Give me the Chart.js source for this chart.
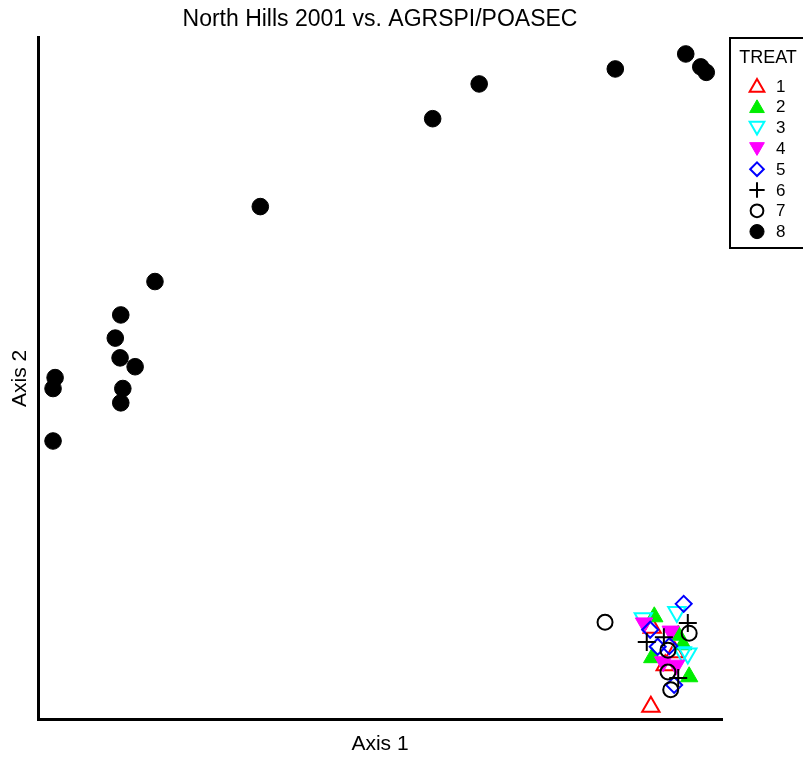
<!DOCTYPE html>
<html>
<head>
<meta charset="utf-8">
<script src="https://cdn.jsdelivr.net/npm/chart.js@4/dist/chart.umd.min.js"></script>
<style>
  html, body { margin: 0; padding: 0; background: #fff; }
  #wrap { width: 803px; height: 759px; }
</style>
</head>
<body>
<div id="wrap"><canvas id="c" width="803" height="759"></canvas></div>
<script>
// NMS ordination scores, North Hills 2001, grouped by treatment
const treatLabels = ['1', '2', '3', '4', '5', '6', '7', '8'];

const t1Axis1 = [89.8, 93.1, 91.7, 89.6];
const t1Axis2 = [13.4, 9.8, 7.9, 1.8];

const t2Axis1 = [90.1, 93.6, 89.8, 95.2, 94.3];
const t2Axis2 = [15.0, 12.3, 9.0, 6.2, 10.9];

const t3Axis1 = [93.4, 88.5, 94.2, 95.0];
const t3Axis2 = [15.7, 14.8, 9.8, 9.6];

const t4Axis1 = [88.6, 92.5, 91.4, 93.3];
const t4Axis2 = [14.1, 12.9, 8.4, 7.9];

const t5Axis1 = [94.4, 89.5, 90.6, 92.3, 93.0];
const t5Axis2 = [16.9, 13.1, 10.6, 10.7, 5.0];

const t6Axis1 = [95.0, 89.0, 93.6, 91.5];
const t6Axis2 = [14.1, 11.3, 6.0, 12.0];

const t7Axis1 = [82.9, 95.2, 92.1, 92.1, 92.5];
const t7Axis2 = [14.2, 12.6, 10.1, 6.9, 4.3];

const t8Axis1 = [94.7, 96.9, 97.7, 84.4, 64.5, 57.7, 32.5, 17.1, 12.1, 11.3, 12.0, 14.2, 12.4, 12.1, 2.5, 2.2, 2.2];
const t8Axis2 = [97.6, 95.7, 94.9, 95.4, 93.2, 88.1, 75.2, 64.2, 59.3, 55.9, 53.0, 51.7, 48.5, 46.4, 50.1, 48.5, 40.8];

const axis1Values = [t1Axis1, t2Axis1, t3Axis1, t4Axis1, t5Axis1, t6Axis1, t7Axis1, t8Axis1];
const axis2Values = [t1Axis2, t2Axis2, t3Axis2, t4Axis2, t5Axis2, t6Axis2, t7Axis2, t8Axis2];

// marker styling per treatment
const markers = [
  { style: 'triangle', rot: 0,   stroke: '#ff0000', fill: 'rgba(0,0,0,0)', r: 10,  bw: 2 },
  { style: 'triangle', rot: 0,   stroke: '#00ee00', fill: '#00ee00',      r: 10,  bw: 1 },
  { style: 'triangle', rot: 180, stroke: '#00ffff', fill: 'rgba(0,0,0,0)', r: 10,  bw: 2 },
  { style: 'triangle', rot: 180, stroke: '#ff00ff', fill: '#ff00ff',      r: 10,  bw: 1 },
  { style: 'rectRot',  rot: 0,   stroke: '#0000ff', fill: 'rgba(0,0,0,0)', r: 8,   bw: 2 },
  { style: 'cross',    rot: 0,   stroke: '#000000', fill: 'rgba(0,0,0,0)', r: 9,   bw: 2 },
  { style: 'circle',   rot: 0,   stroke: '#000000', fill: 'rgba(0,0,0,0)', r: 7.5, bw: 2 },
  { style: 'circle',   rot: 0,   stroke: '#000000', fill: '#000000',      r: 8.3, bw: 1 }
];

const datasets = treatLabels.map((lab, i) => ({
  label: lab,
  data: axis1Values[i].map((x, k) => ({ x: x, y: axis2Values[i][k] })),
  pointStyle: markers[i].style,
  rotation: markers[i].rot,
  pointRadius: markers[i].r,
  pointBorderWidth: markers[i].bw,
  borderColor: markers[i].stroke,
  backgroundColor: markers[i].fill,
  order: 10 - i
}));

// boxed legend with a title, drawn at the upper right
const treatLegend = {
  id: 'treatLegend',
  afterDraw(chart) {
    const ctx = chart.ctx;
    ctx.save();
    ctx.strokeStyle = '#000';
    ctx.lineWidth = 2;
    ctx.strokeRect(730, 38, 90, 210);
    ctx.fillStyle = '#000';
    ctx.font = '18px "Liberation Sans", Arial, sans-serif';
    ctx.textAlign = 'center';
    ctx.textBaseline = 'middle';
    ctx.fillText('TREAT', 768, 58);
    ctx.textAlign = 'left';
    treatLabels.forEach((lab, i) => {
      const y = 86 + i * 20.8;
      const m = markers[i];
      ctx.save();
      ctx.strokeStyle = m.stroke;
      ctx.fillStyle = m.fill;
      ctx.lineWidth = m.bw;
      Chart.helpers.drawPoint(ctx, {
        pointStyle: m.style,
        rotation: m.rot,
        radius: m.r * 0.85,
        borderWidth: m.bw
      }, 757, y + (m.style === 'triangle' ? (m.rot ? -1.5 : 1.5) : 0));
      ctx.restore();
      ctx.fillStyle = '#000';
      ctx.font = '17px "Liberation Sans", Arial, sans-serif';
      ctx.fillText(lab, 776, y + 1);
    });
    ctx.restore();
  }
};

new Chart(document.getElementById('c'), {
  type: 'scatter',
  data: { datasets: datasets },
  plugins: [treatLegend],
  options: {
    responsive: false,
    animation: false,
    layout: { padding: { left: 0, right: 81, top: 0, bottom: 0 }, autoPadding: false },
    plugins: {
      legend: { display: false },
      tooltip: { enabled: false },
      title: {
        display: true,
        text: 'North Hills 2001 vs. AGRSPI/POASEC',
        fullSize: false,
        color: '#000',
        font: { family: '"Liberation Sans", Arial, sans-serif', size: 23, weight: 'normal' },
        padding: { top: 6, bottom: 4 }
      }
    },
    scales: {
      x: {
        type: 'linear',
        min: 0,
        max: 100,
        grid: { display: false, drawTicks: false },
        ticks: { display: false },
        border: { display: true, color: '#000', width: 3 },
        title: {
          display: true,
          text: 'Axis 1',
          color: '#000',
          font: { family: '"Liberation Sans", Arial, sans-serif', size: 21 },
          padding: { top: 4, bottom: 2 }
        },
        afterFit(s) { s.height = 40; }
      },
      y: {
        type: 'linear',
        min: 0,
        max: 100,
        grid: { display: false, drawTicks: false },
        ticks: { display: false },
        border: { display: true, color: '#000', width: 3 },
        title: {
          display: true,
          text: 'Axis 2',
          color: '#000',
          font: { family: '"Liberation Sans", Arial, sans-serif', size: 21 },
          padding: { top: 8, bottom: 4 }
        },
        afterFit(s) { s.width = 38; }
      }
    }
  }
});
</script>
</body>
</html>
